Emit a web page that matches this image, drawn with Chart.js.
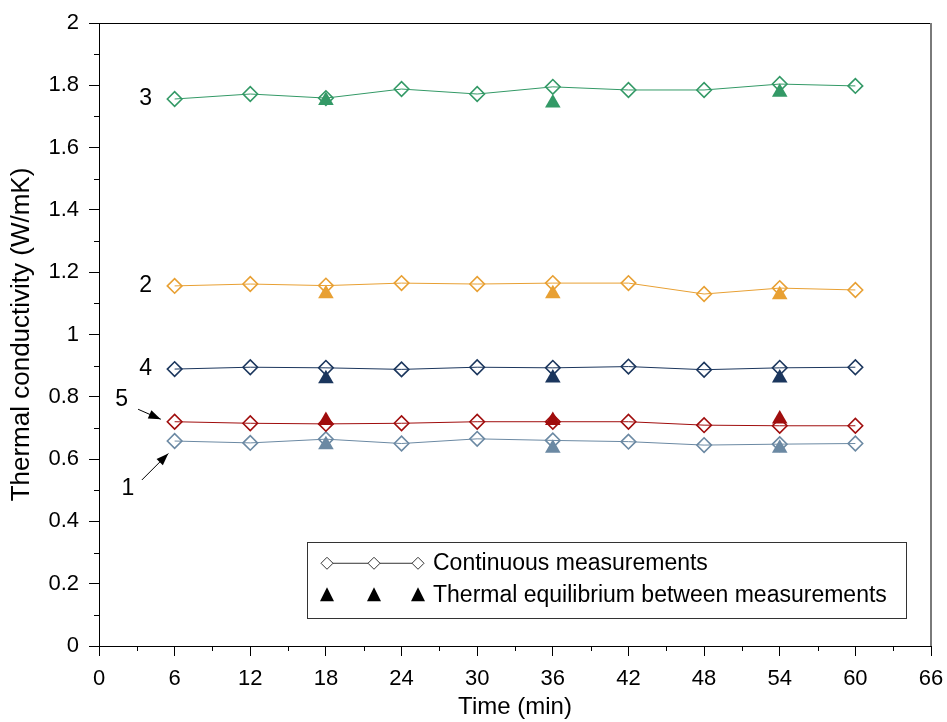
<!DOCTYPE html>
<html>
<head>
<meta charset="utf-8">
<script src="https://cdn.jsdelivr.net/npm/chart.js@4/dist/chart.umd.min.js"></script>
<style>
  html, body { margin: 0; padding: 0; background: #fff; }
  #wrap { width: 947px; height: 722px; }
</style>
</head>
<body>
<div id="wrap"><canvas id="chart" width="947" height="722"></canvas></div>
<script>
// time of each continuous reading (min)
const times = [6, 12, 18, 24, 30, 36, 42, 48, 54, 60];
// continuous measurements, W/mK
const k1 = [0.658, 0.652, 0.664, 0.650, 0.665, 0.660, 0.656, 0.645, 0.648, 0.650];
const k2 = [1.156, 1.162, 1.157, 1.165, 1.162, 1.165, 1.165, 1.130, 1.149, 1.143];
const k3 = [1.756, 1.772, 1.759, 1.788, 1.772, 1.795, 1.785, 1.785, 1.804, 1.798];
const k4 = [0.889, 0.895, 0.893, 0.888, 0.895, 0.893, 0.897, 0.887, 0.893, 0.895];
const k5 = [0.720, 0.715, 0.713, 0.715, 0.720, 0.720, 0.720, 0.709, 0.707, 0.707];

// thermal equilibrium between measurements
const eqTimes = [18, 36, 54];
const eq1 = [0.646, 0.635, 0.635];
const eq2 = [1.131, 1.131, 1.128];
const eq3 = [1.751, 1.743, 1.778];
const eq4 = [0.858, 0.860, 0.860];
const eq5 = [0.724, 0.724, 0.729];

const colors = {
  1: '#6b89a3',
  2: '#e8a033',
  3: '#339966',
  4: '#1b365d',
  5: '#a00d0d'
};

// labels next to the curves: [text, x, y, arrow from x,y to x,y]
const curveLabels = [
  ['3', 3.7, 1.756, null],
  ['2', 3.7, 1.156, null],
  ['4', 3.7, 0.889, null],
  ['5', 1.8, 0.790, [3.1, 0.760, 4.9, 0.728]],
  ['1', 2.3, 0.505, [3.4, 0.533, 5.5, 0.618]]
];

function pair(xs, ys) {
  return xs.map((x, i) => ({ x: x, y: ys[i] }));
}

function lineSet(data, c) {
  return {
    type: 'line',
    data: pair(times, data),
    borderColor: c,
    borderWidth: 1,
    pointStyle: 'rectRot',
    pointRadius: 7.3,
    pointHoverRadius: 7.3,
    pointBorderWidth: 1.6,
    pointBorderColor: c,
    pointBackgroundColor: 'rgba(0,0,0,0)',
    tension: 0,
    order: 2
  };
}

function eqSet(data, c) {
  return {
    type: 'scatter',
    data: pair(eqTimes, data),
    showLine: false,
    pointStyle: 'triangle',
    pointRadius: 9,
    pointHoverRadius: 9,
    pointBorderWidth: 0,
    pointBackgroundColor: c,
    pointBorderColor: c,
    order: 1
  };
}

const FONT = "'Liberation Sans', Arial, sans-serif";

// minor ticks, frame, curve labels and legend box
const extras = {
  id: 'extras',
  afterDraw(chart) {
    const ctx = chart.ctx;
    const xs = chart.scales.x, ys = chart.scales.y;
    const a = chart.chartArea;
    ctx.save();
    ctx.strokeStyle = '#000';
    ctx.lineWidth = 1;
    ctx.beginPath();
    for (let v = 3; v < 66; v += 6) {
      const px = Math.round(xs.getPixelForValue(v)) + 0.5;
      ctx.moveTo(px, a.bottom);
      ctx.lineTo(px, a.bottom + 5);
    }
    for (let i = 1; i < 20; i += 2) {
      const py = Math.round(ys.getPixelForValue(i / 10)) + 0.5;
      ctx.moveTo(a.left - 5, py);
      ctx.lineTo(a.left, py);
    }
    ctx.stroke();

    // top and right frame
    ctx.beginPath();
    ctx.moveTo(a.left, a.top + 0.5);
    ctx.lineTo(a.right, a.top + 0.5);
    ctx.stroke();
    ctx.strokeStyle = '#7a7a7a';
    ctx.lineWidth = 2;
    ctx.beginPath();
    ctx.moveTo(a.right, a.top);
    ctx.lineTo(a.right, a.bottom);
    ctx.stroke();

    // curve labels
    ctx.fillStyle = '#000';
    ctx.font = '23px ' + FONT;
    ctx.textAlign = 'center';
    ctx.textBaseline = 'middle';
    curveLabels.forEach(([t, x, y, arr]) => {
      ctx.fillText(t, xs.getPixelForValue(x), ys.getPixelForValue(y));
      if (arr) {
        const x0 = xs.getPixelForValue(arr[0]), y0 = ys.getPixelForValue(arr[1]);
        const x1 = xs.getPixelForValue(arr[2]), y1 = ys.getPixelForValue(arr[3]);
        const ang = Math.atan2(y1 - y0, x1 - x0);
        ctx.strokeStyle = '#000';
        ctx.lineWidth = 1;
        ctx.beginPath();
        ctx.moveTo(x0, y0);
        ctx.lineTo(x1, y1);
        ctx.stroke();
        ctx.beginPath();
        ctx.moveTo(x1, y1);
        ctx.lineTo(x1 - 13 * Math.cos(ang - 0.35), y1 - 13 * Math.sin(ang - 0.35));
        ctx.lineTo(x1 - 13 * Math.cos(ang + 0.35), y1 - 13 * Math.sin(ang + 0.35));
        ctx.closePath();
        ctx.fill();
      }
    });

    // legend
    const lx = xs.getPixelForValue(16.5), ly = ys.getPixelForValue(0.333);
    const lw = xs.getPixelForValue(64.0) - lx, lh = ys.getPixelForValue(0.09) - ly;
    ctx.strokeStyle = '#333';
    ctx.lineWidth = 1;
    ctx.strokeRect(Math.round(lx) + 0.5, Math.round(ly) + 0.5, Math.round(lw), Math.round(lh));
    const row1 = ly + 21, row2 = ly + 53;
    const sx = [lx + 20, lx + 67, lx + 111];
    ctx.beginPath();
    ctx.moveTo(sx[0], row1);
    ctx.lineTo(sx[2], row1);
    ctx.stroke();
    ctx.fillStyle = '#fff';
    sx.forEach(x => {
      ctx.beginPath();
      ctx.moveTo(x - 6, row1);
      ctx.lineTo(x, row1 - 6);
      ctx.lineTo(x + 6, row1);
      ctx.lineTo(x, row1 + 6);
      ctx.closePath();
      ctx.fill();
      ctx.stroke();
    });
    ctx.fillStyle = '#000';
    sx.forEach(x => {
      ctx.beginPath();
      ctx.moveTo(x, row2 - 8);
      ctx.lineTo(x + 7, row2 + 6);
      ctx.lineTo(x - 7, row2 + 6);
      ctx.closePath();
      ctx.fill();
    });
    ctx.font = '23px ' + FONT;
    ctx.textAlign = 'left';
    ctx.fillText('Continuous measurements', lx + 126, row1);
    ctx.fillText('Thermal equilibrium between measurements', lx + 126, row2);
    ctx.restore();
  }
};

new Chart(document.getElementById('chart'), {
  type: 'line',
  data: {
    datasets: [
      lineSet(k3, colors[3]),
      lineSet(k2, colors[2]),
      lineSet(k4, colors[4]),
      lineSet(k5, colors[5]),
      lineSet(k1, colors[1]),
      eqSet(eq3, colors[3]),
      eqSet(eq2, colors[2]),
      eqSet(eq4, colors[4]),
      eqSet(eq5, colors[5]),
      eqSet(eq1, colors[1])
    ]
  },
  options: {
    responsive: false,
    animation: false,
    layout: { padding: { top: 23, right: 16, left: 0, bottom: 0 } },
    plugins: {
      legend: { display: false },
      tooltip: { enabled: false }
    },
    scales: {
      x: {
        type: 'linear',
        min: 0,
        max: 66,
        afterFit(s) {
          s.height = 76;
          s.paddingLeft = 0;
          s.paddingRight = 0;
        },
        ticks: {
          stepSize: 6,
          color: '#000',
          padding: 10,
          maxRotation: 0,
          autoSkip: false,
          font: { family: FONT, size: 22 }
        },
        grid: { drawOnChartArea: false, tickLength: 10, color: '#000' },
        border: { color: '#000', width: 1 },
        title: {
          display: true,
          text: 'Time (min)',
          color: '#000',
          padding: { top: 0, bottom: 0 },
          font: { family: FONT, size: 24 }
        }
      },
      y: {
        min: 0,
        max: 2,
        afterFit(s) {
          s.width = 99;
          s.paddingTop = 0;
          s.paddingBottom = 0;
        },
        ticks: {
          stepSize: 0.2,
          color: '#000',
          padding: 10,
          font: { family: FONT, size: 22 },
          callback: v => Math.round(v * 10) / 10
        },
        grid: { drawOnChartArea: false, tickLength: 10, color: '#000' },
        border: { color: '#000', width: 1 },
        title: {
          display: true,
          text: 'Thermal conductivity (W/mK)',
          color: '#000',
          padding: { top: 6, bottom: 0 },
          font: { family: FONT, size: 26 }
        }
      }
    }
  },
  plugins: [extras]
});
</script>
</body>
</html>
